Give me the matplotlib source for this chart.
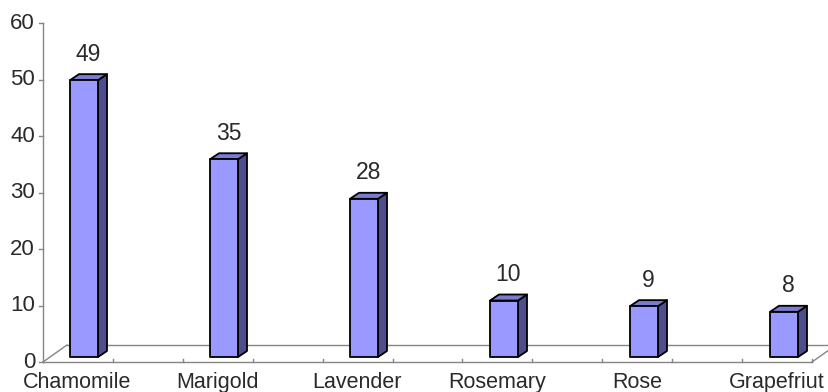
import matplotlib.pyplot as plt
from matplotlib.patches import Polygon

plt.rcParams['font.family'] = ['Liberation Sans', 'DejaVu Sans']

categories = ["Chamomile", "Marigold", "Lavender", "Rosemary", "Rose", "Grapefriut"]
values = [49, 35, 28, 10, 9, 8]
y_ticks = [0, 10, 20, 30, 40, 50, 60]

# pseudo-3d geometry, in data units (x: category index, y: value)
PX_X = 140.0          # pixels per category
PX_Y = 5.65           # pixels per value unit
bar_w = 28 / PX_X
shift_x, shift_y = 7 / PX_X, 5 / PX_Y      # bar set back into the floor
depth_x, depth_y = 9 / PX_X, 6 / PX_Y      # bar thickness
floor_dx, floor_dy = 24 / PX_X, 17 / PX_Y  # floor depth
floor_l, floor_r = -34 / PX_X, len(categories) - 1 + 35 / PX_X

fig = plt.figure(figsize=(8.29, 3.92), dpi=100)
ax = fig.add_axes([0, 0, 1, 1])
ax.set_xlim(-77 / PX_X, (829 - 77) / PX_X)
ax.set_ylim(-30 / PX_Y, 362 / PX_Y)
ax.axis('off')

grey = '#858585'
txt = '#2a2a2a'
# floor
ax.plot([floor_l, floor_r], [0, 0], color=grey, lw=1)
ax.plot([floor_l + floor_dx, floor_r + floor_dx], [floor_dy, floor_dy], color=grey, lw=1)
ax.plot([floor_l, floor_l + floor_dx], [0, floor_dy], color=grey, lw=1)
ax.plot([floor_r, floor_r + floor_dx], [0, floor_dy], color=grey, lw=1)
n_ticks = 2 * (len(categories) - 1) + 1
step = (floor_r - floor_l) / n_ticks
for k in range(1, n_ticks + 1):
    xt = floor_l + k * step
    ax.plot([xt, xt], [0, 3 / PX_Y], color=grey, lw=1)

# value axis
ax.plot([floor_l, floor_l], [0, y_ticks[-1]], color=grey, lw=1)
for t in y_ticks:
    ax.plot([floor_l - 4 / PX_X, floor_l], [t, t], color=grey, lw=1)
    ax.text(floor_l - 8 / PX_X, t, str(t), ha='right', va='center',
            fontsize=16, color=txt)

# bars
for i, v in enumerate(values):
    x0 = i + shift_x - bar_w / 2
    x1 = x0 + bar_w
    y0 = shift_y
    y1 = y0 + v
    front = [(x0, y0), (x1, y0), (x1, y1), (x0, y1)]
    side = [(x1, y0), (x1 + depth_x, y0 + depth_y), (x1 + depth_x, y1 + depth_y), (x1, y1)]
    top = [(x0, y1), (x1, y1), (x1 + depth_x, y1 + depth_y), (x0 + depth_x, y1 + depth_y)]
    for pts, col in [(side, '#4E4E8E'), (top, '#7B7BD0'), (front, '#9999FF')]:
        ax.add_patch(Polygon(pts, closed=True, facecolor=col, edgecolor='black',
                             lw=1.3, joinstyle='round', zorder=3))
    ax.annotate(str(v), (i + shift_x + depth_x / 2, y1 + depth_y), xytext=(0, 14.5),
                textcoords='offset points', ha='center', va='center',
                fontsize=16.5, color=txt)

# category labels
for i, name in enumerate(categories):
    ax.annotate(name, (i, 0), xytext=(0, -7), textcoords='offset points',
                ha='center', va='top', fontsize=15.5, color=txt)

fig.savefig('out.png', dpi=100)
